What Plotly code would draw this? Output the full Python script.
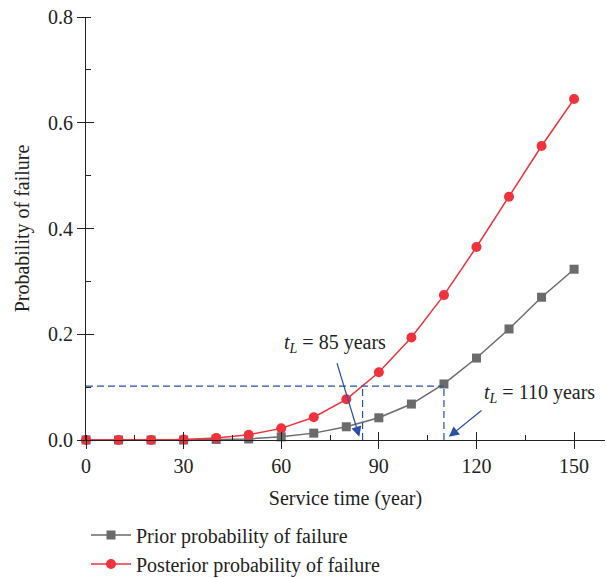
import plotly.graph_objects as go

years = [0, 10, 20, 30, 40, 50, 60, 70, 80, 90, 100, 110, 120, 130, 140, 150]
prior = [0, 0, 0, 0, 0.001, 0.002, 0.006, 0.013, 0.025, 0.042, 0.068, 0.106, 0.155, 0.21, 0.27, 0.323]
posterior = [0, 0, 0, 0.001, 0.004, 0.01, 0.022, 0.043, 0.077, 0.128, 0.194, 0.274, 0.365, 0.46, 0.556, 0.645]
threshold = 0.102
t_post = 85
t_prior = 110
x_ticks = [0, 30, 60, 90, 120, 150]
y_ticks = [0, 0.2, 0.4, 0.6, 0.8]

FONT = "Liberation Serif"
blue = "#2d4fa8"
X_RANGE = [0, 159.5]
Y_RANGE = [0, 0.8]

fig = go.Figure()
fig.add_trace(go.Scatter(x=years, y=prior, mode="lines+markers", name="Prior probability of failure",
                         line=dict(color="#6b6b6b", width=1.5),
                         marker=dict(symbol="square", size=9, color="#6b6b6b"), cliponaxis=False))
fig.add_trace(go.Scatter(x=years, y=posterior, mode="lines+markers", name="Posterior probability of failure",
                         line=dict(color="#f0323c", width=1.5),
                         marker=dict(symbol="circle", size=10, color="#f0323c"), cliponaxis=False))

# dashed guide lines
dash = "7px,4px"
fig.add_trace(go.Scatter(x=[0, t_prior], y=[threshold, threshold], mode="lines", showlegend=False,
                         line=dict(color=blue, width=1.2, dash=dash), hoverinfo="skip"))
fig.add_trace(go.Scatter(x=[t_post, t_post], y=[0, threshold], mode="lines", showlegend=False,
                         line=dict(color=blue, width=1.2, dash=dash), hoverinfo="skip"))
fig.add_trace(go.Scatter(x=[t_prior, t_prior], y=[0, threshold], mode="lines", showlegend=False,
                         line=dict(color=blue, width=1.2, dash=dash), hoverinfo="skip"))

# invisible trace on overlay axes (used to draw inside half of the crossing major ticks)
fig.add_trace(go.Scatter(x=[None], y=[None], xaxis="x2", yaxis="y2", showlegend=False, hoverinfo="skip"))

fig.add_annotation(x=84, y=0.006, ax=77, ay=0.148, xref="x", yref="y", axref="x", ayref="y",
                   showarrow=True, arrowhead=2, arrowsize=1.7, arrowwidth=1.2, arrowcolor=blue, text="")
fig.add_annotation(x=111.5, y=0.006, ax=122, ay=0.058, xref="x", yref="y", axref="x", ayref="y",
                   showarrow=True, arrowhead=2, arrowsize=1.7, arrowwidth=1.2, arrowcolor=blue, text="")
fig.add_annotation(x=76.5, y=0.182, text="<i>t</i><sub><i>L</i></sub> = 85 years", showarrow=False,
                   font=dict(family=FONT, size=20, color="#222"))
fig.add_annotation(x=139.5, y=0.088, text="<i>t</i><sub><i>L</i></sub> = 110 years", showarrow=False,
                   font=dict(family=FONT, size=20, color="#222"))

fig.update_layout(
    width=606, height=578,
    margin=dict(l=86, r=1, t=17, b=138, autoexpand=False),
    paper_bgcolor="white", plot_bgcolor="white",
    font=dict(family=FONT, size=20, color="#222"),
    legend=dict(x=0.0, y=0.108, xref="paper", yref="container", xanchor="left", yanchor="top",
                bgcolor="rgba(0,0,0,0)",
                font=dict(family=FONT, size=20, color="#222"), tracegroupgap=0, itemwidth=40),
    xaxis=dict(range=X_RANGE, tickvals=x_ticks, showgrid=False, zeroline=False,
               showline=True, linecolor="#222", linewidth=1.2, ticks="outside", ticklen=8, tickcolor="#222",
               tickfont=dict(size=20),
               minor=dict(dtick=15, tick0=0, ticks="inside", ticklen=5, tickcolor="#222", showgrid=False),
               title=dict(text="Service time (year)", font=dict(size=20), standoff=14)),
    yaxis=dict(range=Y_RANGE, tickvals=y_ticks, tickformat=".1f", showgrid=False, zeroline=False,
               showline=True, linecolor="#222", linewidth=1.2, ticks="outside", ticklen=8, tickcolor="#222",
               tickfont=dict(size=20),
               minor=dict(dtick=0.1, tick0=0, ticks="inside", ticklen=5, tickcolor="#222", showgrid=False),
               title=dict(text="Probability of failure", font=dict(size=20), standoff=12)),
    xaxis2=dict(overlaying="x", anchor="y2", side="bottom", range=X_RANGE, tickvals=x_ticks,
                showticklabels=False, showgrid=False, zeroline=False, showline=False,
                ticks="inside", ticklen=8, tickcolor="#222"),
    yaxis2=dict(overlaying="y", anchor="x2", side="left", range=Y_RANGE, tickvals=y_ticks,
                showticklabels=False, showgrid=False, zeroline=False, showline=False,
                ticks="inside", ticklen=8, tickcolor="#222"),
)

fig.write_html("out.html")
